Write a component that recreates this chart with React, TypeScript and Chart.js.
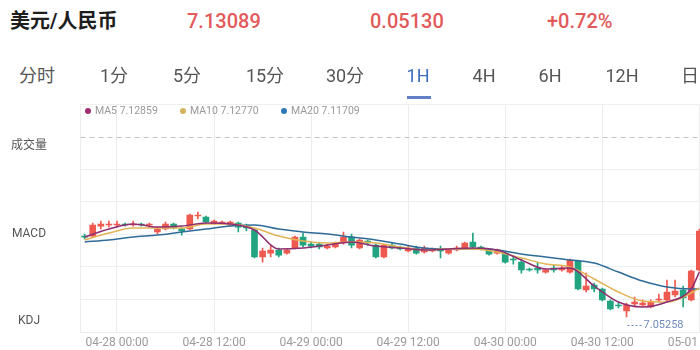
import React, { useEffect, useRef } from 'react';
import { Chart, registerables } from 'chart.js';

Chart.register(...registerables);

// ---------- data ----------
const pad = (n: number) => (n < 10 ? '0' + n : '' + n);
const categories: string[] = [];
for (let h = 20; h < 24; h++) categories.push(`04-27 ${pad(h)}:00`);
for (const d of ['04-28', '04-29', '04-30']) for (let h = 0; h < 24; h++) categories.push(`${d} ${pad(h)}:00`);
for (let h = 0; h < 8; h++) categories.push(`05-01 ${pad(h)}:00`);

const tickLabels = ['04-28 00:00', '04-28 12:00', '04-29 00:00', '04-29 12:00', '04-30 00:00', '04-30 12:00', '05-01 00:00'];

const opens = [
  7.1263, 7.1263, 7.1354, 7.1364, 7.1364, 7.1373, 7.1364, 7.1373, 7.1364, 7.1300,
  7.1327, 7.1373, 7.1327, 7.1327, 7.1446, 7.1436, 7.1382, 7.1382, 7.1364, 7.1382,
  7.1354, 7.1318, 7.1072, 7.1108, 7.1136, 7.1108, 7.1154, 7.1254, 7.1190, 7.1190,
  7.1154, 7.1163, 7.1200, 7.1254, 7.1154, 7.1218, 7.1181, 7.1072, 7.1181, 7.1163,
  7.1127, 7.1154, 7.1118, 7.1127, 7.1136, 7.1108, 7.1136, 7.1154, 7.1209, 7.1163,
  7.1136, 7.1108, 7.1108, 7.1054, 7.1026, 7.0963, 7.0972, 7.0935, 7.0972, 7.0954,
  7.0935, 7.1036, 7.0772, 7.0817, 7.0781, 7.0671, 7.0635, 7.0580, 7.0644, 7.0635,
  7.0617, 7.0681, 7.0681, 7.0726, 7.0772, 7.0681, 7.0954,
];
const highs = [
  7.1282, 7.1382, 7.1400, 7.1400, 7.1400, 7.1382, 7.1400, 7.1382, 7.1382, 7.1345,
  7.1391, 7.1382, 7.1345, 7.1464, 7.1482, 7.1446, 7.1409, 7.1400, 7.1400, 7.1391,
  7.1373, 7.1327, 7.1154, 7.1172, 7.1154, 7.1145, 7.1263, 7.1291, 7.1209, 7.1200,
  7.1190, 7.1209, 7.1300, 7.1282, 7.1236, 7.1227, 7.1190, 7.1190, 7.1200, 7.1172,
  7.1172, 7.1172, 7.1172, 7.1154, 7.1172, 7.1145, 7.1172, 7.1209, 7.1291, 7.1172,
  7.1145, 7.1145, 7.1118, 7.1081, 7.1054, 7.0972, 7.1026, 7.0963, 7.0999, 7.0990,
  7.1054, 7.1045, 7.0926, 7.0835, 7.0790, 7.0681, 7.0662, 7.0653, 7.0708, 7.0681,
  7.0681, 7.0735, 7.0863, 7.0863, 7.0808, 7.0954, 7.1327,
];
const lows = [
  7.1236, 7.1254, 7.1327, 7.1345, 7.1345, 7.1354, 7.1354, 7.1354, 7.1345, 7.1282,
  7.1318, 7.1327, 7.1272, 7.1318, 7.1418, 7.1382, 7.1373, 7.1373, 7.1354, 7.1300,
  7.1309, 7.1063, 7.1026, 7.1072, 7.1072, 7.1099, 7.1145, 7.1163, 7.1154, 7.1145,
  7.1145, 7.1154, 7.1190, 7.1154, 7.1145, 7.1181, 7.1063, 7.1063, 7.1145, 7.1136,
  7.1118, 7.1099, 7.1108, 7.1118, 7.1063, 7.1099, 7.1127, 7.1145, 7.1154, 7.1136,
  7.1090, 7.1099, 7.1017, 7.1008, 7.0926, 7.0944, 7.0926, 7.0926, 7.0935, 7.0944,
  7.0926, 7.0772, 7.0753, 7.0753, 7.0671, 7.0590, 7.0608, 7.05258, 7.0617, 7.0626,
  7.0608, 7.0662, 7.0671, 7.0708, 7.0617, 7.0671, 7.0944,
];
const closes = [
  7.1254, 7.1364, 7.1373, 7.1373, 7.1373, 7.1364, 7.1373, 7.1364, 7.1373, 7.1327,
  7.1373, 7.1336, 7.1309, 7.1455, 7.1455, 7.1391, 7.1400, 7.1391, 7.1391, 7.1345,
  7.1336, 7.1072, 7.1127, 7.1136, 7.1090, 7.1136, 7.1254, 7.1181, 7.1172, 7.1163,
  7.1172, 7.1200, 7.1254, 7.1181, 7.1227, 7.1200, 7.1072, 7.1181, 7.1154, 7.1145,
  7.1154, 7.1108, 7.1154, 7.1136, 7.1127, 7.1136, 7.1154, 7.1200, 7.1163, 7.1154,
  7.1099, 7.1136, 7.1026, 7.1045, 7.0954, 7.0954, 7.0954, 7.0954, 7.0954, 7.0972,
  7.1045, 7.0781, 7.0808, 7.0781, 7.0681, 7.0599, 7.0626, 7.0635, 7.0662, 7.0653,
  7.0662, 7.0690, 7.0753, 7.0762, 7.0699, 7.0944, 7.13089,
];

const maIndex = [0, 3, 6, 9, 12, 15, 18, 21, 24, 27, 30, 33, 36, 39, 42, 45, 48, 51, 54, 57, 60, 63, 66, 69, 72, 75, 76];
const ma5 = [7.1254, 7.1327, 7.1373, 7.1345, 7.1354, 7.1382, 7.1373, 7.1318, 7.1145, 7.1154, 7.1181, 7.1209, 7.1172, 7.1154, 7.1136, 7.1145, 7.1154, 7.1136, 7.1045, 7.0963, 7.0972, 7.0808, 7.0662, 7.0617, 7.0662, 7.0781, 7.0935];
const ma10 = [7.1227, 7.1291, 7.1336, 7.1336, 7.1336, 7.1373, 7.1373, 7.1336, 7.1263, 7.1218, 7.1200, 7.1209, 7.1200, 7.1163, 7.1136, 7.1145, 7.1145, 7.1118, 7.1063, 7.1008, 7.0981, 7.0872, 7.0753, 7.0671, 7.0662, 7.0744, 7.0790];
const ma20 = [7.1209, 7.1227, 7.1254, 7.1272, 7.1300, 7.1327, 7.1354, 7.1364, 7.1327, 7.1300, 7.1282, 7.1254, 7.1227, 7.1190, 7.1154, 7.1145, 7.1145, 7.1136, 7.1099, 7.1072, 7.1045, 7.1017, 7.0935, 7.0853, 7.0799, 7.0781, 7.0781];

const legendItems = [
  { name: 'MA5', value: '7.12859', color: '#9c2f6c' },
  { name: 'MA10', value: '7.12770', color: '#d6b35c' },
  { name: 'MA20', value: '7.11709', color: '#2f78b8' },
];
const header = { title: '美元/人民币', price: '7.13089', change: '0.05130', pct: '+0.72%' };
const tabs = ['分时', '1分', '5分', '15分', '30分', '1H', '4H', '6H', '12H', '日'];
const activeTab = '1H';
const panelLabels = ['成交量', 'MACD', 'KDJ'];

// ---------- styles ----------
const RED = '#ef5a50';
const GREEN = '#21a47f';
const Y_MIN = 7.0389;
const Y_MAX = 7.2466;
const FONT = 'Roboto, "Noto Sans CJK SC", "Noto Sans", sans-serif';

const tabCenters = [37, 114, 187, 265, 345, 418, 484, 550, 622, 690];
const legendX = [85, 180, 281];
const panelY = [145, 233, 320];

const overlayPlugin = {
  id: 'overlay',
  beforeDatasetsDraw(chart: any) {
    const { ctx, chartArea } = chart;
    const ys = chart.scales.y;
    const t = ys.ticks;
    const py = Math.round(ys.getPixelForValue(t[t.length - 2].value)) + 0.5;
    ctx.save();
    ctx.setLineDash([5, 4]);
    ctx.strokeStyle = '#c4c4c4';
    ctx.lineWidth = 1;
    ctx.beginPath();
    ctx.moveTo(chartArea.left, py);
    ctx.lineTo(chartArea.right, py);
    ctx.stroke();
    ctx.restore();
  },
  afterDatasetsDraw(chart: any) {
    const { ctx } = chart;
    let idx = 0;
    for (let i = 1; i < lows.length; i++) if (lows[i] < lows[idx]) idx = i;
    const x = chart.scales.x.getPixelForValue(idx);
    const y = chart.scales.y.getPixelForValue(lows[idx]) + 8;
    ctx.save();
    ctx.strokeStyle = '#6f8bbd';
    ctx.setLineDash([2, 2]);
    ctx.lineWidth = 1;
    ctx.beginPath();
    ctx.moveTo(x + 1, Math.round(y) + 0.5);
    ctx.lineTo(x + 16, Math.round(y) + 0.5);
    ctx.stroke();
    ctx.setLineDash([]);
    ctx.fillStyle = '#6f8bbd';
    ctx.font = `11px ${FONT}`;
    ctx.textBaseline = 'middle';
    ctx.fillText(lows[idx].toFixed(5), x + 17, y);
    ctx.restore();
  },
};

export default function App() {
  const ref = useRef<HTMLCanvasElement | null>(null);

  useEffect(() => {
    if (!ref.current) return;
    const colors = opens.map((o, i) => (closes[i] >= o ? RED : GREEN));
    const lineDs = (label: string, vals: number[], color: string) => ({
      type: 'line' as const,
      label,
      data: maIndex.map((i, k) => ({ x: categories[i], y: vals[k] })),
      borderColor: color,
      borderWidth: 1.5,
      pointRadius: 0,
      tension: 0.4,
      cubicInterpolationMode: 'monotone' as const,
      order: 0,
    });
    const chart = new Chart(ref.current, {
      type: 'bar',
      data: {
        labels: categories,
        datasets: [
          lineDs('MA5', ma5, '#8f2f72'),
          lineDs('MA10', ma10, '#e2b455'),
          lineDs('MA20', ma20, '#2f6b98'),
          {
            type: 'bar',
            label: 'body',
            data: opens.map((o, i) => [o, closes[i]]) as any,
            backgroundColor: colors,
            barThickness: 6,
            grouped: false,
            borderWidth: 0,
            order: 1,
          },
          {
            type: 'bar',
            label: 'wick',
            data: lows.map((l, i) => [l, highs[i]]) as any,
            backgroundColor: colors,
            barThickness: 1,
            grouped: false,
            borderWidth: 0,
            order: 2,
          },
        ],
      },
      options: {
        animation: false,
        responsive: false,
        events: [],
        layout: { padding: { left: 80.6, top: 9, right: 0, bottom: 0 } },
        plugins: { legend: { display: false }, tooltip: { enabled: false } },
        scales: {
          x: {
            type: 'category',
            offset: true,
            grid: {
              offset: false,
              drawTicks: false,
              color: (c: any) => (tickLabels.includes(categories[c.index]) ? '#ececec' : 'rgba(0,0,0,0)'),
            },
            border: { display: true, color: '#ececec' },
            ticks: {
              autoSkip: false,
              maxRotation: 0,
              padding: 4,
              color: '#9b9b9b',
              font: { size: 12, family: FONT },
              callback: (_v: any, i: number) => (tickLabels.includes(categories[i]) ? categories[i] : ''),
            },
            afterFit: (s: any) => {
              s.height = 18;
            },
          },
          y: {
            type: 'linear',
            min: Y_MIN,
            max: Y_MAX,
            afterBuildTicks: (s: any) => {
              s.ticks = Array.from({ length: 8 }, (_, i) => ({ value: Y_MIN + ((Y_MAX - Y_MIN) * i) / 7 }));
            },
            afterFit: (s: any) => {
              s.width = 0;
            },
            ticks: { display: false },
            grid: {
              drawTicks: false,
              color: (c: any) => (c.index === 6 ? 'rgba(0,0,0,0)' : '#efefef'),
            },
            border: { display: true, color: '#ececec' },
          },
        },
      },
      plugins: [overlayPlugin],
    });
    return () => chart.destroy();
  }, []);

  return (
    <div
      style={{
        position: 'fixed',
        left: 0,
        top: 0,
        width: 700,
        height: 350,
        overflow: 'hidden',
        background: '#fff',
        fontFamily: FONT,
      }}
    >
      <div style={{ position: 'absolute', left: 0, top: 95, width: 760, height: 255 }}>
        <canvas ref={ref} width={760} height={255} style={{ display: 'block' }} />
      </div>
      <div style={{ position: 'absolute', left: 10, top: 8, fontSize: 20, lineHeight: '26px', fontWeight: 700, color: '#1e1e1e' }}>
        {header.title}
      </div>
      {[header.price, header.change, header.pct].map((t, i) => (
        <div
          key={t}
          style={{ position: 'absolute', left: [187, 370, 547][i], top: 8, fontSize: 20, lineHeight: '26px', fontWeight: 500, color: '#e25a5a' }}
        >
          {t}
        </div>
      ))}
      {tabs.map((t, i) => (
        <div
          key={t}
          style={{
            position: 'absolute',
            left: tabCenters[i] - 40,
            width: 80,
            textAlign: 'center',
            top: 63,
            fontSize: 18,
            lineHeight: '26px',
            color: t === activeTab ? '#3d6dbf' : '#555',
          }}
        >
          {t}
        </div>
      ))}
      <div style={{ position: 'absolute', left: 407, top: 96, width: 24, height: 3, background: '#5f80c6' }} />
      {legendItems.map((it, i) => (
        <div
          key={it.name}
          style={{ position: 'absolute', left: legendX[i], top: 104, fontSize: 10.5, lineHeight: '14px', color: '#999', display: 'flex', alignItems: 'center', whiteSpace: 'nowrap' }}
        >
          <span style={{ display: 'inline-block', width: 6, height: 6, borderRadius: 3, background: it.color, marginRight: 4 }} />
          {it.name} {it.value}
        </div>
      ))}
      {panelLabels.map((t, i) => (
        <div
          key={t}
          style={{ position: 'absolute', left: 0, width: 58, textAlign: 'center', top: panelY[i] - 8, fontSize: 12, lineHeight: '16px', color: '#555' }}
        >
          {t}
        </div>
      ))}
    </div>
  );
}
